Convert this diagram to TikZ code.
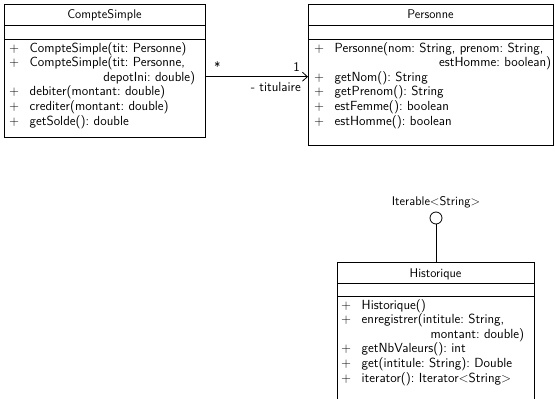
\documentclass[tikz,border=0pt]{standalone}
\usetikzlibrary{arrows.meta}
\newcommand{\umlfont}{\sffamily\frenchspacing\fontsize{13.2}{14.6}\selectfont}
\newcommand{\headfont}{\sffamily\fontsize{12.6}{15}\selectfont}
% one operation line: the visibility sign in its own column, then the signature
\newcommand{\op}[1]{\makebox[20.5pt][l]{+}#1}
% a wrapped signature continues flush right
\newcommand{\cont}[1]{\hfill #1}
\begin{document}
\begin{tikzpicture}[x=1pt,y=-1pt,
  umlline/.style={draw, line width=0.8pt},
  title/.style={anchor=base, inner sep=0pt, font=\headfont},
  member/.style={anchor=base west, align=left, inner sep=0pt, font=\umlfont},
  label/.style={inner sep=0pt, font=\umlfont},
  assoc/.style={line width=0.8pt, -{Straight Barb[length=5pt,width=9pt]}}]
\useasboundingbox (0,0) rectangle (555,399);

% CompteSimple
\draw[umlline] (4,4) rectangle (205,137);
\draw[umlline] (4,25) -- (205,25);
\draw[umlline] (4,39) -- (205,39);
\node[title] (cs-name) at (104.5,18.5) {CompteSimple};
\node[member, text width=186pt] (cs-ops) at (9,52)
  {\op{CompteSimple(tit: Personne)}\\
   \op{CompteSimple(tit: Personne,}\\
   \cont{depotIni: double)}\\
   \op{debiter(montant: double)}\\
   \op{crediter(montant: double)}\\
   \op{getSolde(): double}};
\coordinate (cs-east) at (205,76.7);

% Personne
\draw[umlline] (308,4) rectangle (553,145);
\draw[umlline] (308,25) -- (553,25);
\draw[umlline] (308,39) -- (553,39);
\node[title] (p-name) at (430.5,18.5) {Personne};
\node[member, text width=237pt] (p-ops) at (314,52)
  {\op{Personne(nom: String, prenom: String,}\\
   \cont{estHomme: boolean)}\\
   \op{getNom(): String}\\
   \op{getPrenom(): String}\\
   \op{estFemme(): boolean}\\
   \op{estHomme(): boolean}};
\coordinate (p-west) at (308,76.7);

% association CompteSimple -> Personne
\draw[assoc] (cs-east) -- (p-west);
\node[label, anchor=base west] (mult-cs) at (214,71) {*};
\node[label, anchor=base east] (mult-p) at (300,71) {1};
\node[label, anchor=base east] (role) at (301,91) {- titulaire};

% Historique
\draw[umlline] (337,262) rectangle (534,401);
\draw[umlline] (337,283) -- (534,283);
\draw[umlline] (337,296) -- (534,296);
\node[title] (h-name) at (435.5,277) {Historique};
\node[member, text width=183pt] (h-ops) at (341,309)
  {\op{Historique()}\\
   \op{enregistrer(intitule: String,}\\
   \cont{montant: double)}\\
   \op{getNbValeurs(): int}\\
   \op{get(intitule: String): Double}\\
   \op{iterator(): Iterator<String>}};
\coordinate (h-top) at (436,262);

% provided interface
\node[draw, circle, line width=0.8pt, minimum size=12pt, inner sep=0pt] (iface) at (436,218) {};
\node[label, anchor=base, font=\headfont] (iface-name) at (436,205) {Iterable<String>};
\draw[line width=0.8pt] (iface) -- (h-top);
\end{tikzpicture}
\end{document}
